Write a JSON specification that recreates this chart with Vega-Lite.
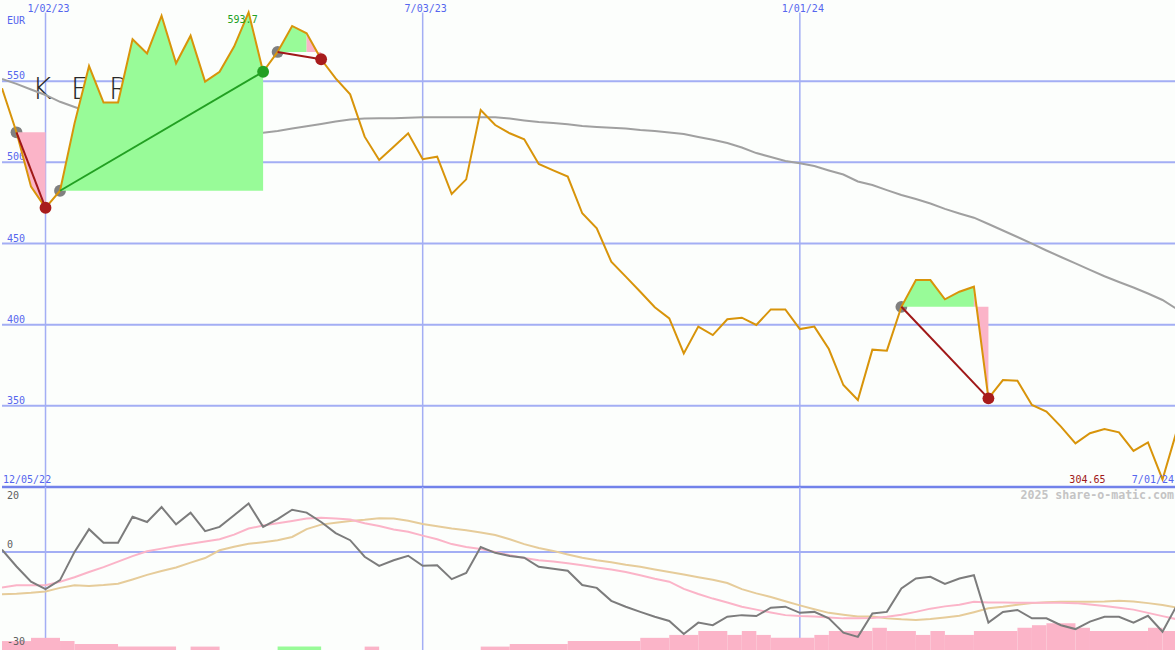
{
  "$schema": "https://vega.github.io/schema/vega-lite/v6.json",
  "background": "#fcfefc",
  "padding": 0,
  "spacing": 0,
  "bounds": "flush",
  "config": {
    "view": {"stroke": null},
    "axis": {"title": null}
  },
  "datasets": {
    "prices": [
      {"date": "2022-12-12", "close": 545.6, "avg": 551.3, "osc": 0.7, "fast": -11, "slow": -13.1},
      {"date": "2022-12-19", "close": 518.5, "avg": 548.3, "osc": -4.5, "fast": -10.3, "slow": -12.9},
      {"date": "2022-12-26", "close": 485, "avg": 544.9, "osc": -9.2, "fast": -10.3, "slow": -12.6},
      {"date": "2023-01-02", "close": 472, "avg": 541.5, "osc": -11.5, "fast": -10.3, "slow": -12.2},
      {"date": "2023-01-09", "close": 482.5, "avg": 537.3, "osc": -8.7, "fast": -9.2, "slow": -11.1},
      {"date": "2023-01-16", "close": 524, "avg": 534.1, "osc": 0, "fast": -7.8, "slow": -10.3},
      {"date": "2023-01-23", "close": 559.3, "avg": 531, "osc": 7, "fast": -6.2, "slow": -10.5},
      {"date": "2023-01-30", "close": 536.8, "avg": 527.7, "osc": 2.8, "fast": -4.7, "slow": -10.2},
      {"date": "2023-02-06", "close": 536.8, "avg": 527.7, "osc": 2.8, "fast": -3, "slow": -9.8},
      {"date": "2023-02-13", "close": 575.8, "avg": 523.6, "osc": 10.8, "fast": -1.3, "slow": -8.5},
      {"date": "2023-02-20", "close": 567.1, "avg": 522.4, "osc": 9.2, "fast": 0.2, "slow": -7.1},
      {"date": "2023-02-27", "close": 590.3, "avg": 521.1, "osc": 13.8, "fast": 1, "slow": -5.9},
      {"date": "2023-03-06", "close": 561, "avg": 519.6, "osc": 8.5, "fast": 1.8, "slow": -4.8},
      {"date": "2023-03-13", "close": 578, "avg": 518.9, "osc": 12.1, "fast": 2.5, "slow": -3.3},
      {"date": "2023-03-20", "close": 549.7, "avg": 518.9, "osc": 6.4, "fast": 3.2, "slow": -1.9},
      {"date": "2023-03-27", "close": 555.8, "avg": 518.7, "osc": 7.7, "fast": 3.9, "slow": 0.5},
      {"date": "2023-04-03", "close": 571.3, "avg": 518.7, "osc": 11.3, "fast": 5.3, "slow": 1.6},
      {"date": "2023-04-10", "close": 592.4, "avg": 518.5, "osc": 14.9, "fast": 7.2, "slow": 2.5},
      {"date": "2023-04-17", "close": 555.8, "avg": 518.3, "osc": 7.7, "fast": 8.1, "slow": 3},
      {"date": "2023-04-24", "close": 568, "avg": 519.3, "osc": 10.1, "fast": 8.8, "slow": 3.6},
      {"date": "2023-05-01", "close": 584, "avg": 520.8, "osc": 13, "fast": 9.5, "slow": 4.6},
      {"date": "2023-05-08", "close": 579.5, "avg": 522.2, "osc": 12.1, "fast": 10.3, "slow": 7},
      {"date": "2023-05-15", "close": 563.5, "avg": 523.6, "osc": 9.2, "fast": 10.5, "slow": 8.4},
      {"date": "2023-05-22", "close": 551.7, "avg": 525.2, "osc": 5.8, "fast": 10.3, "slow": 9},
      {"date": "2023-05-29", "close": 541.9, "avg": 526.4, "osc": 3.6, "fast": 10, "slow": 9.5},
      {"date": "2023-06-05", "close": 515.8, "avg": 527, "osc": -1.5, "fast": 8.8, "slow": 9.9},
      {"date": "2023-06-12", "close": 501.4, "avg": 527.1, "osc": -4.3, "fast": 8, "slow": 10.4},
      {"date": "2023-06-19", "close": 509.6, "avg": 527.1, "osc": -2.6, "fast": 6.9, "slow": 10.3},
      {"date": "2023-06-26", "close": 517.9, "avg": 527.5, "osc": -1.2, "fast": 6.2, "slow": 9.6},
      {"date": "2023-07-03", "close": 501.9, "avg": 527.7, "osc": -4.3, "fast": 5, "slow": 8.6},
      {"date": "2023-07-10", "close": 503.5, "avg": 527.7, "osc": -4.1, "fast": 3.9, "slow": 7.9},
      {"date": "2023-07-17", "close": 480.5, "avg": 527.7, "osc": -8.4, "fast": 2.4, "slow": 7.2},
      {"date": "2023-07-24", "close": 489.5, "avg": 527.7, "osc": -6.5, "fast": 1.5, "slow": 6.7},
      {"date": "2023-07-31", "close": 532.2, "avg": 527.7, "osc": 1.5, "fast": 0.9, "slow": 6},
      {"date": "2023-08-07", "close": 523, "avg": 527.7, "osc": -0.3, "fast": 0, "slow": 5.2},
      {"date": "2023-08-14", "close": 517.9, "avg": 527, "osc": -1.3, "fast": -1, "slow": 3.9},
      {"date": "2023-08-21", "close": 514.2, "avg": 525.8, "osc": -1.8, "fast": -1.9, "slow": 2.4},
      {"date": "2023-08-28", "close": 499, "avg": 524.8, "osc": -4.6, "fast": -2.6, "slow": 1.2},
      {"date": "2023-09-04", "close": 495, "avg": 524.2, "osc": -5.2, "fast": -3, "slow": 0.3},
      {"date": "2023-09-11", "close": 491.2, "avg": 523.4, "osc": -5.8, "fast": -3.5, "slow": -0.8},
      {"date": "2023-09-18", "close": 468.6, "avg": 522.4, "osc": -10.2, "fast": -4.1, "slow": -1.8},
      {"date": "2023-09-25", "close": 459.4, "avg": 521.8, "osc": -11.1, "fast": -4.8, "slow": -2.6},
      {"date": "2023-10-02", "close": 438.8, "avg": 521.3, "osc": -15.1, "fast": -5.4, "slow": -3.2},
      {"date": "2023-10-09", "close": 429.6, "avg": 520.8, "osc": -16.9, "fast": -6.2, "slow": -4},
      {"date": "2023-10-16", "close": 420.3, "avg": 519.9, "osc": -18.5, "fast": -7.2, "slow": -4.6},
      {"date": "2023-10-23", "close": 410.7, "avg": 519.3, "osc": -20, "fast": -8.3, "slow": -5.4},
      {"date": "2023-10-30", "close": 403.9, "avg": 518.4, "osc": -21.3, "fast": -9.2, "slow": -6.2},
      {"date": "2023-11-06", "close": 382.3, "avg": 517.5, "osc": -25.3, "fast": -11.4, "slow": -7},
      {"date": "2023-11-13", "close": 398.8, "avg": 515.6, "osc": -21.8, "fast": -13, "slow": -7.8},
      {"date": "2023-11-20", "close": 393.6, "avg": 513.9, "osc": -22.6, "fast": -14.4, "slow": -8.6},
      {"date": "2023-11-27", "close": 403.3, "avg": 511.9, "osc": -20, "fast": -15.6, "slow": -9.6},
      {"date": "2023-12-04", "close": 404.3, "avg": 509.1, "osc": -19.5, "fast": -16.9, "slow": -11.5},
      {"date": "2023-12-11", "close": 399.8, "avg": 505.7, "osc": -19.8, "fast": -17.8, "slow": -12.8},
      {"date": "2023-12-18", "close": 409.4, "avg": 503.3, "osc": -17.2, "fast": -18.7, "slow": -13.9},
      {"date": "2023-12-25", "close": 409.4, "avg": 500.8, "osc": -16.9, "fast": -19.5, "slow": -15.2},
      {"date": "2024-01-01", "close": 397.3, "avg": 499.4, "osc": -18.8, "fast": -19.8, "slow": -16.5},
      {"date": "2024-01-08", "close": 398.8, "avg": 497.7, "osc": -18.5, "fast": -19.9, "slow": -17.7},
      {"date": "2024-01-15", "close": 385, "avg": 495, "osc": -20.5, "fast": -20.2, "slow": -18.8},
      {"date": "2024-01-22", "close": 362.8, "avg": 492.5, "osc": -24.9, "fast": -20.5, "slow": -19.4},
      {"date": "2024-01-29", "close": 353.6, "avg": 488.2, "osc": -26.2, "fast": -20.5, "slow": -19.9},
      {"date": "2024-02-05", "close": 384.6, "avg": 486, "osc": -19, "fast": -20.4, "slow": -19.9},
      {"date": "2024-02-12", "close": 384, "avg": 482.9, "osc": -18.5, "fast": -20, "slow": -20.5},
      {"date": "2024-02-19", "close": 411, "avg": 479.9, "osc": -11.3, "fast": -19.4, "slow": -20.8},
      {"date": "2024-02-26", "close": 427.5, "avg": 477.4, "osc": -8.2, "fast": -18.5, "slow": -21},
      {"date": "2024-03-04", "close": 427.5, "avg": 474.6, "osc": -7.7, "fast": -17.5, "slow": -20.7},
      {"date": "2024-03-11", "close": 415.6, "avg": 471.3, "osc": -9.9, "fast": -16.8, "slow": -20.2},
      {"date": "2024-03-18", "close": 420.3, "avg": 468.5, "osc": -8.2, "fast": -16.3, "slow": -19.7},
      {"date": "2024-03-25", "close": 423.4, "avg": 465.9, "osc": -7.2, "fast": -15.4, "slow": -18.6},
      {"date": "2024-04-01", "close": 354.6, "avg": 462, "osc": -21.8, "fast": -15.6, "slow": -17.4},
      {"date": "2024-04-08", "close": 365.9, "avg": 458, "osc": -18.5, "fast": -15.6, "slow": -16.9},
      {"date": "2024-04-15", "close": 365.5, "avg": 454, "osc": -17.9, "fast": -15.7, "slow": -16.3},
      {"date": "2024-04-22", "close": 350.5, "avg": 449.9, "osc": -20.5, "fast": -15.7, "slow": -15.8},
      {"date": "2024-04-29", "close": 346.4, "avg": 445.7, "osc": -20.5, "fast": -15.7, "slow": -15.5},
      {"date": "2024-05-06", "close": 337.2, "avg": 441.7, "osc": -22.6, "fast": -15.7, "slow": -15.4},
      {"date": "2024-05-13", "close": 326.9, "avg": 437.8, "osc": -23.8, "fast": -15.8, "slow": -15.4},
      {"date": "2024-05-20", "close": 333.1, "avg": 433.7, "osc": -21.5, "fast": -16.2, "slow": -15.4},
      {"date": "2024-05-27", "close": 335.7, "avg": 429.8, "osc": -20, "fast": -16.7, "slow": -15.3},
      {"date": "2024-06-03", "close": 333.7, "avg": 426.3, "osc": -20, "fast": -17.2, "slow": -15.1},
      {"date": "2024-06-10", "close": 322.2, "avg": 422.9, "osc": -21.8, "fast": -17.8, "slow": -15.3},
      {"date": "2024-06-17", "close": 327.5, "avg": 419.2, "osc": -19.7, "fast": -18.8, "slow": -15.8},
      {"date": "2024-06-24", "close": 304.65, "avg": 415.2, "osc": -24.6, "fast": -19.8, "slow": -16.4},
      {"date": "2024-07-01", "close": 335.1, "avg": 409.6, "osc": -16.4, "fast": -20.8, "slow": -17.2}
    ],
    "zones": [
      {"seg": "T1", "outcome": "loss", "date": "2022-12-19", "close": 518.5, "entry": 518.5},
      {"seg": "T1", "outcome": "loss", "date": "2022-12-26", "close": 485, "entry": 518.5},
      {"seg": "T1", "outcome": "loss", "date": "2023-01-02", "close": 472, "entry": 518.5},
      {"seg": "T2", "outcome": "gain", "date": "2023-01-09", "close": 482.5, "entry": 482.5},
      {"seg": "T2", "outcome": "gain", "date": "2023-01-16", "close": 524, "entry": 482.5},
      {"seg": "T2", "outcome": "gain", "date": "2023-01-23", "close": 559.3, "entry": 482.5},
      {"seg": "T2", "outcome": "gain", "date": "2023-01-30", "close": 536.8, "entry": 482.5},
      {"seg": "T2", "outcome": "gain", "date": "2023-02-06", "close": 536.8, "entry": 482.5},
      {"seg": "T2", "outcome": "gain", "date": "2023-02-13", "close": 575.8, "entry": 482.5},
      {"seg": "T2", "outcome": "gain", "date": "2023-02-20", "close": 567.1, "entry": 482.5},
      {"seg": "T2", "outcome": "gain", "date": "2023-02-27", "close": 590.3, "entry": 482.5},
      {"seg": "T2", "outcome": "gain", "date": "2023-03-06", "close": 561, "entry": 482.5},
      {"seg": "T2", "outcome": "gain", "date": "2023-03-13", "close": 578, "entry": 482.5},
      {"seg": "T2", "outcome": "gain", "date": "2023-03-20", "close": 549.7, "entry": 482.5},
      {"seg": "T2", "outcome": "gain", "date": "2023-03-27", "close": 555.8, "entry": 482.5},
      {"seg": "T2", "outcome": "gain", "date": "2023-04-03", "close": 571.3, "entry": 482.5},
      {"seg": "T2", "outcome": "gain", "date": "2023-04-10", "close": 592.4, "entry": 482.5},
      {"seg": "T2", "outcome": "gain", "date": "2023-04-17", "close": 555.8, "entry": 482.5},
      {"seg": "T3a", "outcome": "gain", "date": "2023-04-24", "close": 568, "entry": 568},
      {"seg": "T3a", "outcome": "gain", "date": "2023-05-01", "close": 584, "entry": 568},
      {"seg": "T3a", "outcome": "gain", "date": "2023-05-08", "close": 579.5, "entry": 568},
      {"seg": "T3b", "outcome": "loss", "date": "2023-05-08", "close": 579.5, "entry": 568},
      {"seg": "T3b", "outcome": "loss", "date": "2023-05-15", "close": 563.5, "entry": 568},
      {"seg": "T4a", "outcome": "gain", "date": "2024-02-19", "close": 411, "entry": 411},
      {"seg": "T4a", "outcome": "gain", "date": "2024-02-26", "close": 427.5, "entry": 411},
      {"seg": "T4a", "outcome": "gain", "date": "2024-03-04", "close": 427.5, "entry": 411},
      {"seg": "T4a", "outcome": "gain", "date": "2024-03-11", "close": 415.6, "entry": 411},
      {"seg": "T4a", "outcome": "gain", "date": "2024-03-18", "close": 420.3, "entry": 411},
      {"seg": "T4a", "outcome": "gain", "date": "2024-03-25", "close": 423.4, "entry": 411},
      {"seg": "T4b", "outcome": "loss", "date": "2024-03-25", "close": 423.4, "entry": 411},
      {"seg": "T4b", "outcome": "loss", "date": "2024-04-01", "close": 354.6, "entry": 411}
    ],
    "links": [
      {"trade": "T1", "outcome": "loss", "date": "2022-12-19", "price": 518.5},
      {"trade": "T1", "outcome": "loss", "date": "2023-01-02", "price": 472},
      {"trade": "T2", "outcome": "gain", "date": "2023-01-09", "price": 482.5},
      {"trade": "T2", "outcome": "gain", "date": "2023-04-17", "price": 555.8},
      {"trade": "T3", "outcome": "loss", "date": "2023-04-24", "price": 568},
      {"trade": "T3", "outcome": "loss", "date": "2023-05-15", "price": 563.5},
      {"trade": "T4", "outcome": "loss", "date": "2024-02-19", "price": 411},
      {"trade": "T4", "outcome": "loss", "date": "2024-04-01", "price": 354.6}
    ],
    "signals": [
      {"kind": "entry", "date": "2022-12-19", "price": 518.5},
      {"kind": "entry", "date": "2023-01-09", "price": 482.5},
      {"kind": "entry", "date": "2023-04-24", "price": 568},
      {"kind": "entry", "date": "2024-02-19", "price": 411},
      {"kind": "exitLoss", "date": "2023-01-02", "price": 472},
      {"kind": "exitLoss", "date": "2023-05-15", "price": 563.5},
      {"kind": "exitLoss", "date": "2024-04-01", "price": 354.6},
      {"kind": "exitGain", "date": "2023-04-17", "price": 555.8}
    ],
    "bars": [
      {"start": "2022-12-12", "end": "2022-12-26", "level": -27.5, "side": "short"},
      {"start": "2022-12-26", "end": "2023-01-09", "level": -26.5, "side": "short"},
      {"start": "2023-01-09", "end": "2023-01-16", "level": -27.5, "side": "short"},
      {"start": "2023-01-16", "end": "2023-02-06", "level": -28.4, "side": "short"},
      {"start": "2023-02-06", "end": "2023-03-06", "level": -29.2, "side": "short"},
      {"start": "2023-03-13", "end": "2023-03-27", "level": -29.2, "side": "short"},
      {"start": "2023-04-24", "end": "2023-05-15", "level": -29.2, "side": "long"},
      {"start": "2023-06-05", "end": "2023-06-12", "level": -29.2, "side": "short"},
      {"start": "2023-07-31", "end": "2023-08-14", "level": -29.2, "side": "short"},
      {"start": "2023-08-14", "end": "2023-09-11", "level": -28.4, "side": "short"},
      {"start": "2023-09-11", "end": "2023-10-16", "level": -27.5, "side": "short"},
      {"start": "2023-10-16", "end": "2023-10-30", "level": -26.5, "side": "short"},
      {"start": "2023-10-30", "end": "2023-11-13", "level": -25.6, "side": "short"},
      {"start": "2023-11-13", "end": "2023-11-27", "level": -24.4, "side": "short"},
      {"start": "2023-11-27", "end": "2023-12-04", "level": -25.6, "side": "short"},
      {"start": "2023-12-04", "end": "2023-12-11", "level": -24.4, "side": "short"},
      {"start": "2023-12-11", "end": "2023-12-18", "level": -25.6, "side": "short"},
      {"start": "2023-12-18", "end": "2024-01-08", "level": -26.5, "side": "short"},
      {"start": "2024-01-08", "end": "2024-01-15", "level": -25.6, "side": "short"},
      {"start": "2024-01-15", "end": "2024-02-05", "level": -24.4, "side": "short"},
      {"start": "2024-02-05", "end": "2024-02-12", "level": -23.4, "side": "short"},
      {"start": "2024-02-12", "end": "2024-02-26", "level": -24.4, "side": "short"},
      {"start": "2024-02-26", "end": "2024-03-04", "level": -25.6, "side": "short"},
      {"start": "2024-03-04", "end": "2024-03-11", "level": -24.4, "side": "short"},
      {"start": "2024-03-11", "end": "2024-03-25", "level": -25.6, "side": "short"},
      {"start": "2024-03-25", "end": "2024-04-15", "level": -24.4, "side": "short"},
      {"start": "2024-04-15", "end": "2024-04-22", "level": -23.4, "side": "short"},
      {"start": "2024-04-22", "end": "2024-04-29", "level": -22.6, "side": "short"},
      {"start": "2024-04-29", "end": "2024-05-13", "level": -22.0, "side": "short"},
      {"start": "2024-05-13", "end": "2024-05-20", "level": -23.4, "side": "short"},
      {"start": "2024-05-20", "end": "2024-06-17", "level": -24.4, "side": "short"},
      {"start": "2024-06-17", "end": "2024-06-24", "level": -23.4, "side": "short"},
      {"start": "2024-06-24", "end": "2024-07-01", "level": -24.4, "side": "short"}
    ],
    "gridDates": [
      {"date": "2023-01-02", "label": "1/02/23"},
      {"date": "2023-07-03", "label": "7/03/23"},
      {"date": "2024-01-01", "label": "1/01/24"}
    ],
    "priceLevels": [
      {"level": 350},
      {"level": 400},
      {"level": 450},
      {"level": 500},
      {"level": 550}
    ],
    "oscLevels": [
      {"level": 0}
    ]
  },
  "vconcat": [
    {
      "width": 1175,
      "height": 487,
      "layer": [
        {
          "data": {"name": "gridDates"},
          "mark": {"type": "rule", "color": "#a3aef4", "strokeWidth": 1.5},
          "encoding": {
            "x": {"field": "date", "type": "temporal",
              "scale": {"type": "utc", "domain": [{"year": 2022, "month": 12, "date": 12, "utc": true}, {"year": 2024, "month": 7, "date": 1, "utc": true}]},
              "axis": null},
            "y": {"datum": 592.3, "type": "quantitative",
              "scale": {"domain": [300, 600], "nice": false, "zero": false},
              "axis": null},
            "y2": {"datum": 300}
          }
        },
        {
          "data": {"name": "priceLevels"},
          "mark": {"type": "rule", "color": "#a3aef4", "strokeWidth": 2},
          "encoding": {
            "y": {"field": "level", "type": "quantitative", "axis": null}
          }
        },
        {
          "data": {"name": "priceLevels"},
          "mark": {"type": "text", "font": "DejaVu Sans Mono", "fontSize": 10, "color": "#5566ee", "align": "left", "baseline": "alphabetic", "dx": 5, "dy": -2},
          "encoding": {
            "x": {"datum": {"year": 2022, "month": 12, "date": 12, "utc": true}, "type": "temporal", "axis": null},
            "y": {"field": "level", "type": "quantitative", "axis": null},
            "text": {"field": "level", "type": "quantitative", "format": "d"}
          }
        },
        {
          "data": {"name": "gridDates"},
          "mark": {"type": "text", "font": "DejaVu Sans Mono", "fontSize": 10, "color": "#5566ee", "align": "center", "baseline": "middle", "dx": 3},
          "encoding": {
            "x": {"field": "date", "type": "temporal", "axis": null},
            "y": {"datum": 594.5, "type": "quantitative", "axis": null},
            "text": {"field": "label", "type": "nominal"}
          }
        },
        {
          "data": {"values": [{}]},
          "mark": {"type": "text", "font": "DejaVu Sans", "fontWeight": 200, "fontSize": 30, "color": "#2a2a2a", "align": "left", "baseline": "alphabetic", "dx": 1},
          "encoding": {
            "x": {"datum": {"year": 2022, "month": 12, "date": 26, "utc": true}, "type": "temporal", "axis": null},
            "y": {"datum": 539, "type": "quantitative", "axis": null},
            "text": {"value": "K\u00a0\u00a0E\u00a0\u00a0R\u00a0\u00a0I\u00a0\u00a0N\u00a0\u00a0G"}
          }
        },
        {
          "data": {"name": "prices"},
          "mark": {"type": "line", "color": "#a0a0a0", "strokeWidth": 2, "clip": true},
          "encoding": {
            "x": {"field": "date", "type": "temporal", "axis": null},
            "y": {"field": "avg", "type": "quantitative", "axis": null}
          }
        },
        {
          "data": {"name": "signals"},
          "transform": [{"filter": "datum.kind == 'entry'"}],
          "mark": {"type": "circle", "color": "#808080", "size": 140, "opacity": 1},
          "encoding": {
            "x": {"field": "date", "type": "temporal", "axis": null},
            "y": {"field": "price", "type": "quantitative", "axis": null}
          }
        },
        {
          "data": {"name": "zones"},
          "transform": [{"filter": "datum.outcome == 'gain'"}],
          "mark": {"type": "area", "color": "#98fb98", "opacity": 1},
          "encoding": {
            "x": {"field": "date", "type": "temporal", "axis": null},
            "y": {"field": "close", "type": "quantitative", "axis": null},
            "y2": {"field": "entry"},
            "detail": {"field": "seg"}
          }
        },
        {
          "data": {"name": "zones"},
          "transform": [{"filter": "datum.outcome == 'loss'"}],
          "mark": {"type": "area", "color": "#fbb4c8", "opacity": 1},
          "encoding": {
            "x": {"field": "date", "type": "temporal", "axis": null},
            "y": {"field": "close", "type": "quantitative", "axis": null},
            "y2": {"field": "entry"},
            "detail": {"field": "seg"}
          }
        },
        {
          "data": {"name": "prices"},
          "mark": {"type": "line", "color": "#d8940a", "strokeWidth": 2, "clip": true},
          "encoding": {
            "x": {"field": "date", "type": "temporal", "axis": null},
            "y": {"field": "close", "type": "quantitative", "axis": null}
          }
        },
        {
          "data": {"name": "links"},
          "transform": [{"filter": "datum.outcome == 'loss'"}],
          "mark": {"type": "line", "color": "#a01818", "strokeWidth": 2},
          "encoding": {
            "x": {"field": "date", "type": "temporal", "axis": null},
            "y": {"field": "price", "type": "quantitative", "axis": null},
            "detail": {"field": "trade"}
          }
        },
        {
          "data": {"name": "links"},
          "transform": [{"filter": "datum.outcome == 'gain'"}],
          "mark": {"type": "line", "color": "#22a022", "strokeWidth": 2},
          "encoding": {
            "x": {"field": "date", "type": "temporal", "axis": null},
            "y": {"field": "price", "type": "quantitative", "axis": null},
            "detail": {"field": "trade"}
          }
        },
        {
          "data": {"name": "signals"},
          "transform": [{"filter": "datum.kind == 'exitLoss'"}],
          "mark": {"type": "circle", "color": "#a81c1c", "size": 140, "opacity": 1},
          "encoding": {
            "x": {"field": "date", "type": "temporal", "axis": null},
            "y": {"field": "price", "type": "quantitative", "axis": null}
          }
        },
        {
          "data": {"name": "signals"},
          "transform": [{"filter": "datum.kind == 'exitGain'"}],
          "mark": {"type": "circle", "color": "#22a022", "size": 140, "opacity": 1},
          "encoding": {
            "x": {"field": "date", "type": "temporal", "axis": null},
            "y": {"field": "price", "type": "quantitative", "axis": null}
          }
        },
        {
          "data": {"values": [{}]},
          "mark": {"type": "text", "font": "DejaVu Sans Mono", "fontSize": 10, "color": "#5566ee", "align": "left", "baseline": "middle", "dx": 5},
          "encoding": {
            "x": {"datum": {"year": 2022, "month": 12, "date": 12, "utc": true}, "type": "temporal", "axis": null},
            "y": {"datum": 587, "type": "quantitative", "axis": null},
            "text": {"value": "EUR"}
          }
        },
        {
          "data": {"values": [{}]},
          "mark": {"type": "text", "font": "DejaVu Sans Mono", "fontSize": 10, "color": "#22a022", "align": "center", "baseline": "middle", "dx": -6},
          "encoding": {
            "x": {"datum": {"year": 2023, "month": 4, "date": 10, "utc": true}, "type": "temporal", "axis": null},
            "y": {"datum": 587.4, "type": "quantitative", "axis": null},
            "text": {"value": "593.7"}
          }
        },
        {
          "data": {"values": [{}]},
          "mark": {"type": "text", "font": "DejaVu Sans Mono", "fontSize": 10, "color": "#a01818", "align": "right", "baseline": "middle", "dx": -57},
          "encoding": {
            "x": {"datum": {"year": 2024, "month": 6, "date": 24, "utc": true}, "type": "temporal", "axis": null},
            "y": {"datum": 304.3, "type": "quantitative", "axis": null},
            "text": {"value": "304.65"}
          }
        },
        {
          "data": {"values": [{}]},
          "mark": {"type": "text", "font": "DejaVu Sans Mono", "fontSize": 10, "color": "#5566ee", "align": "right", "baseline": "middle", "dx": -3},
          "encoding": {
            "x": {"datum": {"year": 2024, "month": 7, "date": 1, "utc": true}, "type": "temporal", "axis": null},
            "y": {"datum": 304.3, "type": "quantitative", "axis": null},
            "text": {"value": "7/01/24"}
          }
        },
        {
          "data": {"values": [{}]},
          "mark": {"type": "text", "font": "DejaVu Sans Mono", "fontSize": 10, "color": "#5566ee", "align": "left", "baseline": "middle", "dx": 1},
          "encoding": {
            "x": {"datum": {"year": 2022, "month": 12, "date": 12, "utc": true}, "type": "temporal", "axis": null},
            "y": {"datum": 304.3, "type": "quantitative", "axis": null},
            "text": {"value": "12/05/22"}
          }
        },
        {
          "data": {"values": [{}]},
          "mark": {"type": "rule", "color": "#7282ea", "strokeWidth": 2.5},
          "encoding": {
            "y": {"datum": 300, "type": "quantitative", "axis": null}
          }
        }
      ]
    },
    {
      "width": 1175,
      "height": 163,
      "layer": [
        {
          "data": {"name": "gridDates"},
          "mark": {"type": "rule", "color": "#a3aef4", "strokeWidth": 1.5},
          "encoding": {
            "x": {"field": "date", "type": "temporal",
              "scale": {"type": "utc", "domain": [{"year": 2022, "month": 12, "date": 12, "utc": true}, {"year": 2024, "month": 7, "date": 1, "utc": true}]},
              "axis": null}
          }
        },
        {
          "data": {"name": "oscLevels"},
          "mark": {"type": "rule", "color": "#a3aef4", "strokeWidth": 2},
          "encoding": {
            "y": {"field": "level", "type": "quantitative",
              "scale": {"domain": [-30.25, 20], "nice": false, "zero": false},
              "axis": null}
          }
        },
        {
          "data": {"name": "bars"},
          "mark": {"type": "rect"},
          "encoding": {
            "x": {"field": "start", "type": "temporal", "axis": null},
            "x2": {"field": "end"},
            "y": {"field": "level", "type": "quantitative", "axis": null},
            "y2": {"datum": -30.25},
            "color": {"field": "side", "type": "nominal", "scale": {"domain": ["long", "short"], "range": ["#98fb98", "#fbb4c8"]}, "legend": null}
          }
        },
        {
          "data": {"name": "prices"},
          "mark": {"type": "line", "color": "#e6cc9a", "strokeWidth": 2, "clip": true},
          "encoding": {
            "x": {"field": "date", "type": "temporal", "axis": null},
            "y": {"field": "slow", "type": "quantitative", "axis": null}
          }
        },
        {
          "data": {"name": "prices"},
          "mark": {"type": "line", "color": "#fbb4c8", "strokeWidth": 2, "clip": true},
          "encoding": {
            "x": {"field": "date", "type": "temporal", "axis": null},
            "y": {"field": "fast", "type": "quantitative", "axis": null}
          }
        },
        {
          "data": {"name": "prices"},
          "mark": {"type": "line", "color": "#7c7c7c", "strokeWidth": 2, "clip": true},
          "encoding": {
            "x": {"field": "date", "type": "temporal", "axis": null},
            "y": {"field": "osc", "type": "quantitative", "axis": null}
          }
        },
        {
          "data": {"values": [{}]},
          "mark": {"type": "text", "font": "DejaVu Sans Mono", "fontSize": 10, "color": "#606060", "align": "left", "baseline": "middle", "dx": 5},
          "encoding": {
            "x": {"datum": {"year": 2022, "month": 12, "date": 12, "utc": true}, "type": "temporal", "axis": null},
            "y": {"datum": 17.1, "type": "quantitative", "axis": null},
            "text": {"value": "20"}
          }
        },
        {
          "data": {"values": [{}]},
          "mark": {"type": "text", "font": "DejaVu Sans Mono", "fontSize": 10, "color": "#606060", "align": "left", "baseline": "middle", "dx": 5},
          "encoding": {
            "x": {"datum": {"year": 2022, "month": 12, "date": 12, "utc": true}, "type": "temporal", "axis": null},
            "y": {"datum": 2.1, "type": "quantitative", "axis": null},
            "text": {"value": "0"}
          }
        },
        {
          "data": {"values": [{}]},
          "mark": {"type": "text", "font": "DejaVu Sans Mono", "fontSize": 10, "color": "#606060", "align": "left", "baseline": "middle", "dx": 5},
          "encoding": {
            "x": {"datum": {"year": 2022, "month": 12, "date": 12, "utc": true}, "type": "temporal", "axis": null},
            "y": {"datum": -27.8, "type": "quantitative", "axis": null},
            "text": {"value": "-30"}
          }
        },
        {
          "data": {"values": [{}]},
          "mark": {"type": "text", "font": "DejaVu Sans Mono", "fontSize": 11.6, "fontWeight": "bold", "color": "#c4c4c4", "align": "right", "baseline": "middle", "dx": -3},
          "encoding": {
            "x": {"datum": {"year": 2024, "month": 7, "date": 1, "utc": true}, "type": "temporal", "axis": null},
            "y": {"datum": 17.1, "type": "quantitative", "axis": null},
            "text": {"value": "2025 share-o-matic.com"}
          }
        }
      ]
    }
  ]
}
